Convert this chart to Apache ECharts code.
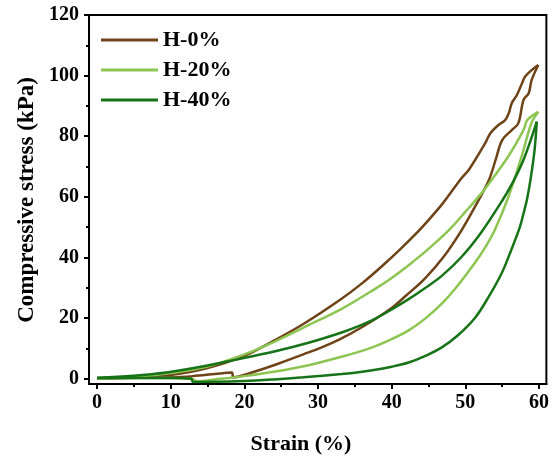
<!DOCTYPE html>
<html>
<head>
<meta charset="utf-8">
<script src="https://cdn.jsdelivr.net/npm/echarts@6/dist/echarts.min.js"></script>
<style>
    html, body { margin: 0; padding: 0; background: #fff; }
    #chart { width: 552px; height: 464px; }
</style>
</head>
<body>
<div id="chart"></div>
<script>
// strain (%), stress (kPa), one array per branch of each loop
const h0Loading = [[0, 0], [5, 0.3], [10, 1.2], [15, 3.5], [20, 7.5], [24, 12.5], [28, 18], [33, 26], [36, 31.5], [39, 37.8], [41, 42.3], [43.6, 48.6], [45, 52.3], [46.8, 57.4], [48, 61.3], [49.5, 66.2], [50.5, 69], [52.7, 77.7], [53.4, 81], [54.5, 83.7], [55.4, 85.3], [55.9, 87.6], [56.3, 90.9], [57, 93.6], [57.7, 97.5], [58.1, 99.6], [59, 101.8], [59.9, 103.5]];
const h0Unloading = [[59.9, 103.5], [59, 98.5], [58.6, 94.2], [57.9, 92], [57.2, 84.3], [56.3, 82], [55, 78.7], [54.1, 72.1], [53.2, 65.5], [51.8, 58.9], [49.5, 49], [47, 40], [44.5, 33], [42, 27.5], [40, 23.3], [36, 17], [33, 13], [30.5, 10.3], [28, 8], [24, 4.4], [21, 2], [18.5, 0.4], [18.3, 2.0], [16, 1.5], [13, 0.8], [10, 0.4], [5, 0.3], [0, 0.2]];

const h20Loading = [[0, 0], [5, 0.5], [10, 1.8], [15, 4], [20, 8], [24.2, 12.3], [28.7, 17.6], [33.2, 23], [37.8, 29.7], [40, 33.2], [42.3, 37.4], [45, 42.8], [47.7, 48.8], [50, 55], [52.2, 61.2], [54, 67], [55.8, 73.2], [57, 78], [58, 82.6], [58.4, 85.3], [59.9, 88]];
const h20Unloading = [[59.9, 88], [59, 84.5], [57.6, 73], [55.85, 60], [54, 49], [52.7, 43.3], [51.3, 38.2], [49, 30.8], [46.8, 24.7], [44.5, 19.7], [42.3, 15.9], [40, 13], [37.8, 10.7], [35.5, 8.8], [33.2, 7.2], [28.7, 4.4], [24.2, 2.3], [20, 0.8], [16, -0.3], [13.5, -0.9], [13, -0.2], [10, 0.2], [5, 0.2], [0, 0.2]];

const h40Loading = [[0, 0.2], [4.9, 0.9], [9.4, 2], [13.9, 3.8], [18.4, 6], [24.2, 9], [28.7, 11.8], [33.2, 15.2], [35.5, 17.3], [37.8, 19.8], [40, 22.8], [42.3, 26.2], [44.5, 29.8], [46.8, 33.9], [49.5, 40.2], [52.2, 48.4], [55, 58.7], [56.5, 65], [58, 72.8], [59.7, 84.8]];
const h40Unloading = [[59.7, 84.8], [59.4, 75.5], [58.9, 66.5], [58.4, 59.5], [57.9, 54.5], [57.4, 50], [56, 41], [54.9, 34.6], [53, 26.3], [51.3, 20], [49, 14.3], [46.8, 10.3], [44.5, 7.4], [42.3, 5.3], [40, 3.9], [37.8, 2.9], [35.5, 2.1], [33.2, 1.5], [28, 0.4], [24, -0.3], [20, -0.8], [13, -1.1], [12.8, 0], [10, 0.2], [5, 0.2], [0, 0.2]];

const seriesNames = ['H-0%', 'H-20%', 'H-40%'];
const seriesColors = ['#6e4318', '#8dc552', '#177317'];

const xMajorTicks = [0, 10, 20, 30, 40, 50, 60];
const xMinorTicks = [5, 15, 25, 35, 45, 55];
const yMajorTicks = [0, 20, 40, 60, 80, 100, 120];
const yMinorTicks = [10, 30, 50, 70, 90, 110];

const fontFamily = '"Liberation Serif", "Times New Roman", serif';
const branches = [
    [h0Loading, h0Unloading],
    [h20Loading, h20Unloading],
    [h40Loading, h40Unloading]
];

const chart = echarts.init(document.getElementById('chart'));

function makeAxis(kind, ticks, showLabel, tickLen, range) {
    return {
        type: 'value',
        min: range[0],
        max: range[1],
        position: kind === 'x' ? 'bottom' : 'left',
        splitLine: { show: false },
        axisLine: { show: true, onZero: false, lineStyle: { color: '#000', width: 2 } },
        axisTick: { show: true, inside: false, length: tickLen, customValues: ticks, lineStyle: { color: '#000', width: 2 } },
        axisLabel: {
            show: showLabel,
            customValues: ticks,
            margin: kind === 'x' ? 9 : 10,
            color: '#000',
            fontFamily: fontFamily,
            fontWeight: 'bold',
            fontSize: 20
        }
    };
}

const xRange = [-1.1, 61];
const yRange = [-1.8, 120];

const series = [];
branches.forEach((pair, i) => {
    pair.forEach(points => {
        series.push({
            name: seriesNames[i],
            type: 'line',
            data: points,
            showSymbol: false,
            smooth: 0.35,
            lineStyle: { color: seriesColors[i], width: 2.5 },
            itemStyle: { color: seriesColors[i] }
        });
    });
});

const option = {
    animation: false,
    backgroundColor: '#fff',
    grid: { left: 89, right: 4, top: 15, bottom: 80, show: true, borderColor: '#000', borderWidth: 2 },
    xAxis: [makeAxis('x', xMajorTicks, true, 5, xRange), makeAxis('x', xMinorTicks, false, 3, xRange)],
    yAxis: [makeAxis('y', yMajorTicks, true, 5, yRange), makeAxis('y', yMinorTicks, false, 3, yRange)],
    legend: {
        orient: 'vertical',
        left: 96,
        top: 24,
        icon: 'rect',
        itemWidth: 57,
        itemHeight: 3,
        itemGap: 8,
        data: seriesNames,
        textStyle: { color: '#000', fontFamily: fontFamily, fontWeight: 'bold', fontSize: 22 }
    },
    graphic: [
        {
            type: 'text',
            x: 301,
            y: 444,
            style: { text: 'Strain (%)', fontFamily: fontFamily, fontWeight: 'bold', fontSize: 22, fill: '#000', align: 'center', verticalAlign: 'middle' }
        },
        {
            type: 'text',
            x: 27,
            y: 200,
            rotation: Math.PI / 2,
            style: { text: 'Compressive stress (kPa)', fontFamily: fontFamily, fontWeight: 'bold', fontSize: 23, fill: '#000', align: 'center', verticalAlign: 'middle' }
        }
    ],
    series: series
};

chart.setOption(option);
</script>
</body>
</html>
